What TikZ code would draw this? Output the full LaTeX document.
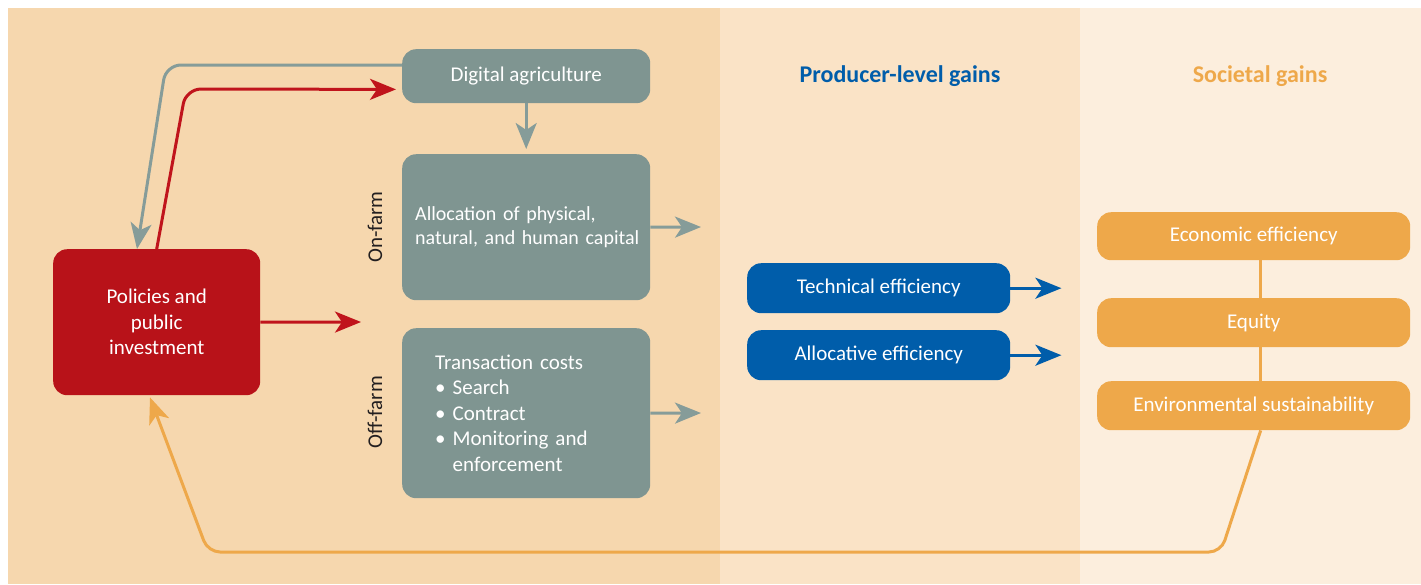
\documentclass[tikz,border=0pt]{standalone}
\usepackage{fontspec}
\setmainfont{Carlito}
\usetikzlibrary{positioning,calc,arrows.meta}

\definecolor{panelA}{HTML}{F6D7AE}
\definecolor{panelB}{HTML}{FAE3C6}
\definecolor{panelC}{HTML}{FCEEDD}
\definecolor{boxgrey}{HTML}{7F9591}
\definecolor{linegrey}{HTML}{869C99}
\definecolor{boxred}{HTML}{B81219}
\definecolor{linered}{HTML}{C0141C}
\definecolor{boxblue}{HTML}{005DAA}
\definecolor{boxorange}{HTML}{EEA84A}
\definecolor{sidetext}{HTML}{231F20}

\begin{document}
\begin{tikzpicture}[x=1pt,y=-1pt]
    \tikzstyle{every node}=[inner sep=0,text=white,font=\fontsize{21}{25.5}\selectfont]
    \tikzstyle{box}=[rectangle,rounded corners=14pt,anchor=north west,align=center]
    \tikzstyle{greybox}=[box,fill=boxgrey,minimum width=248pt]
    \tikzstyle{bluebox}=[box,fill=boxblue,minimum width=263pt,minimum height=50pt]
    \tikzstyle{orangebox}=[box,fill=boxorange,minimum width=313pt,minimum height=49pt]
    \tikzstyle{head}=[anchor=base,font=\fontsize{24}{28}\selectfont\bfseries]
    \tikzstyle{side}=[text=sidetext,rotate=90]
    \tikzstyle{link}=[line width=3pt,-{Stealth[length=26pt,width=21pt,inset=7pt]}]
    \tikzstyle{greylink}=[link,draw=linegrey]
    \tikzstyle{redlink}=[link,draw=linered]
    \tikzstyle{bluelink}=[link,draw=boxblue]
    \tikzstyle{orangelink}=[link,draw=boxorange]

    % panels
    \useasboundingbox (0,0) rectangle (1421,584);
    \fill[white] (0,0) rectangle (1421,584);
    \fill[panelA] (8,8) rectangle (720,584);
    \fill[panelB] (720,8) rectangle (1080,584);
    \fill[panelC] (1080,8) rectangle (1421,584);

    % boxes
    \node[box,fill=boxred,minimum width=207pt,minimum height=146pt] (policy) at (53,249)
        {Policies and\\public\\investment};
    \node[greybox,minimum height=54pt] (digital) at (402,49) {Digital agriculture};
    \node[greybox,minimum height=146pt,text width=222pt,inner xsep=13pt,align=left,
          font=\fontsize{20}{24.5}\selectfont] (alloc) at (402,154)
        {\mbox{Allocation of physical,}\\\mbox{natural, and human capital}};
    \node[greybox,minimum height=170pt,text width=182pt,inner xsep=33pt,align=left] (trans) at (402,328)
        {Transaction costs\\\textbullet\ Search\\\textbullet\ Contract\\\textbullet\ Monitoring and\\\phantom{\textbullet}\ enforcement};
    \node[side] (onfarm) at (375,227) {On-farm};
    \node[side] (offfarm) at (375,412) {Off-farm};

    \node[head,text=boxblue] (prodhead) at (900,82) {Producer-level gains};
    \node[bluebox] (tech) at (747,263) {Technical efficiency};
    \node[bluebox] (alloceff) at (747,330) {Allocative efficiency};

    \node[head,text=boxorange] (sochead) at (1260,82) {Societal gains};
    \node[orangebox,minimum height=48pt] (econ) at (1097,212) {Economic efficiency};
    \node[orangebox] (equity) at (1097,298) {Equity};
    \node[orangebox] (env) at (1097,381) {Environmental sustainability};

    % free ends
    \coordinate (redend) at (361,322);
    \coordinate (allocend) at (701,227);
    \coordinate (transend) at (701,413);

    % connectors
    \draw[greylink,rounded corners=15pt] ($(digital.north west)+(0,16)$) -- (166,65) -- ($(policy.north west)+(84,0)$);
    \draw[redlink,rounded corners=15pt,shorten >=6pt] (policy.north) -- (186,89) -- ($(digital.south west)+(0,-14)$);
    \draw[redlink] (policy.east) -- (redend);
    \draw[greylink,shorten >=5pt] (digital.south) -- (alloc.north);
    \draw[greylink] (alloc.east) -- (allocend);
    \draw[greylink] (trans.east) -- (transend);
    \draw[bluelink] (tech.east) -- ++(51,0);
    \draw[bluelink] (alloceff.east) -- ++(51,0);
    \draw[line width=3pt,draw=boxorange] ($(econ.south)+(7,0)$) -- ($(equity.north)+(7,0)$);
    \draw[line width=3pt,draw=boxorange] ($(equity.south)+(7,0)$) -- ($(env.north)+(7,0)$);
    \draw[orangelink] ($(env.south)+(7,0)$) [rounded corners=12pt] -- (1221,552) -- (208,552) [sharp corners] -- ($(policy.south west)+(97,2)$);
\end{tikzpicture}
\end{document}
